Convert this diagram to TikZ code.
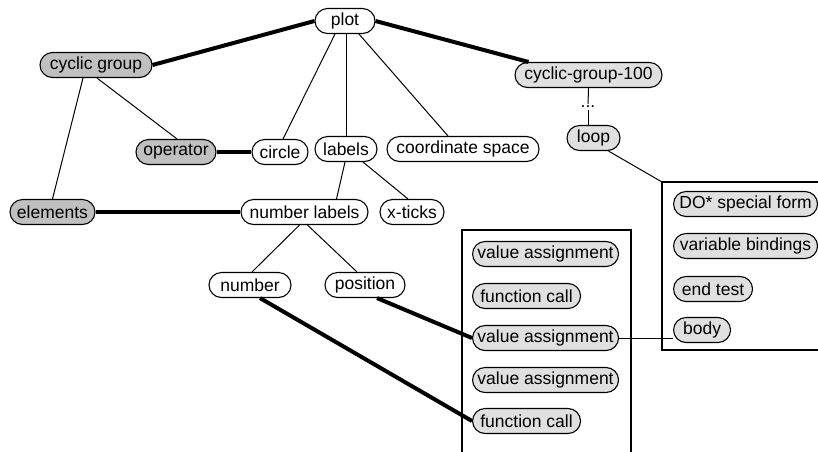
\documentclass[tikz,border=0pt]{standalone}
\usepackage{fontspec}
\setmainfont{Liberation Sans}
\usetikzlibrary{calc}
\definecolor{darkfill}{RGB}{192,192,192}
\definecolor{lightfill}{RGB}{224,224,224}
\tikzset{
  pill/.style={draw, line width=1.1pt, rounded corners=12.5pt, minimum height=25pt, inner xsep=4pt, inner ysep=0pt, font=\fontsize{17.5}{21}\selectfont, fill=white},
  darkpill/.style={pill, fill=darkfill},
  lightpill/.style={pill, fill=lightfill},
  thin link/.style={line width=1pt},
  thick link/.style={line width=4pt},
  frame/.style={line width=1.1pt}
}
\begin{document}
\begin{tikzpicture}[x=1pt,y=-1pt]
\useasboundingbox (0,0) rectangle (818,451);
\begin{scope}
\clip (0,0) rectangle (818,451);
% frames
\draw[frame] (462,460) -- (462,230) -- (631,230) -- (631,460);
\draw[frame] (830,182) -- (662,182) -- (662,350) -- (830,350);
\coordinate (corner) at (662,182);

% nodes
\node[pill, minimum width=60pt] (plot) at (345,21) {plot};
\node[darkpill, minimum width=112pt] (cg) at (96,65) {cyclic group};
\node[darkpill, minimum width=80pt] (op) at (176,152) {operator};
\node[pill, minimum width=56pt] (circle) at (280,152) {circle};
\node[pill, minimum width=62pt] (labels) at (346,149) {labels};
\node[pill, minimum width=152pt] (cs) at (463,149) {coordinate space};
\node[darkpill, minimum width=85pt] (el) at (52.5,212) {elements};
\node[pill, minimum width=127pt] (nl) at (304.5,212) {number labels};
\node[pill, minimum width=64pt] (xt) at (412,212) {x-ticks};
\node[pill, minimum width=82pt] (num) at (250,285) {number};
\node[pill, minimum width=80pt] (pos) at (365,285) {position};
\node[lightpill, minimum width=147pt] (cg100) at (588.5,75) {cyclic-group-100};
\node[font=\fontsize{17.5}{21}\selectfont, inner sep=0pt] (dots) at (588,107) {...};
\node[lightpill, minimum width=53pt] (loop) at (593.5,138) {loop};

\node[lightpill, minimum width=146pt, anchor=west] (va1) at (472,254) {value assignment};
\node[lightpill, minimum width=108pt, anchor=west] (fc1) at (472,296) {function call};
\node[lightpill, minimum width=146pt, anchor=west] (va2) at (472,338) {value assignment};
\node[lightpill, minimum width=146pt, anchor=west] (va3) at (472,380) {value assignment};
\node[lightpill, minimum width=108pt, anchor=west] (fc2) at (472,421) {function call};

\node[lightpill, minimum width=144pt, anchor=west] (do) at (673,204) {DO* special form};
\node[lightpill, minimum width=144pt, anchor=west] (vb) at (673,246) {variable bindings};
\node[lightpill, minimum width=79pt, anchor=west] (et) at (673,289) {end test};
\node[lightpill, minimum width=57pt, anchor=west] (body) at (673,330) {body};

% thick connectors
\draw[thick link] (plot.west) -- (cg.east);
\draw[thick link] (plot.east) -- ($(cg100.north)+(-60,0)$);
\draw[thick link] (op.east) -- (circle.west);
\draw[thick link] (el.east) -- (nl.west);
\draw[thick link] ($(pos.south)+(12,0)$) -- (va2.west);
\draw[thick link] ($(num.south)+(10,0)$) -- (fc2.west);

% thin connectors
\draw[thin link] ($(cg.south)+(1,0)$) -- ($(op.north)+(1,0)$);
\draw[thin link] ($(cg.south)+(-13,0)$) -- (el.north);
\draw[thin link] ($(plot.south)+(-10,0)$) -- ($(circle.north)+(3,0)$);
\draw[thin link] (labels.north |- plot.south) -- (labels.north);
\draw[thin link] ($(plot.south)+(14,0)$) -- ($(cs.north)+(-15,0)$);
\draw[thin link] ($(labels.south)+(-1,0)$) -- ($(nl.north)+(32,0)$);
\draw[thin link] ($(labels.south)+(17,0)$) -- ($(xt.north)+(-4,0)$);
\draw[thin link] ($(nl.south)+(-5,0)$) -- ($(num.north)+(2,0)$);
\draw[thin link] ($(nl.south)+(3,0)$) -- ($(pos.north)+(-8,0)$);
\draw[thin link] (cg100.south) -- ($(dots.north)+(0,-2)$);
\draw[thin link] ($(dots.south)+(0,2)$) -- (loop.north -| dots.south);
\draw[thin link] ($(loop.south)+(15,0)$) -- (corner);
\draw[thin link] (va2.east) -- (va2.east -| body.west);
\end{scope}
\end{tikzpicture}
\end{document}
